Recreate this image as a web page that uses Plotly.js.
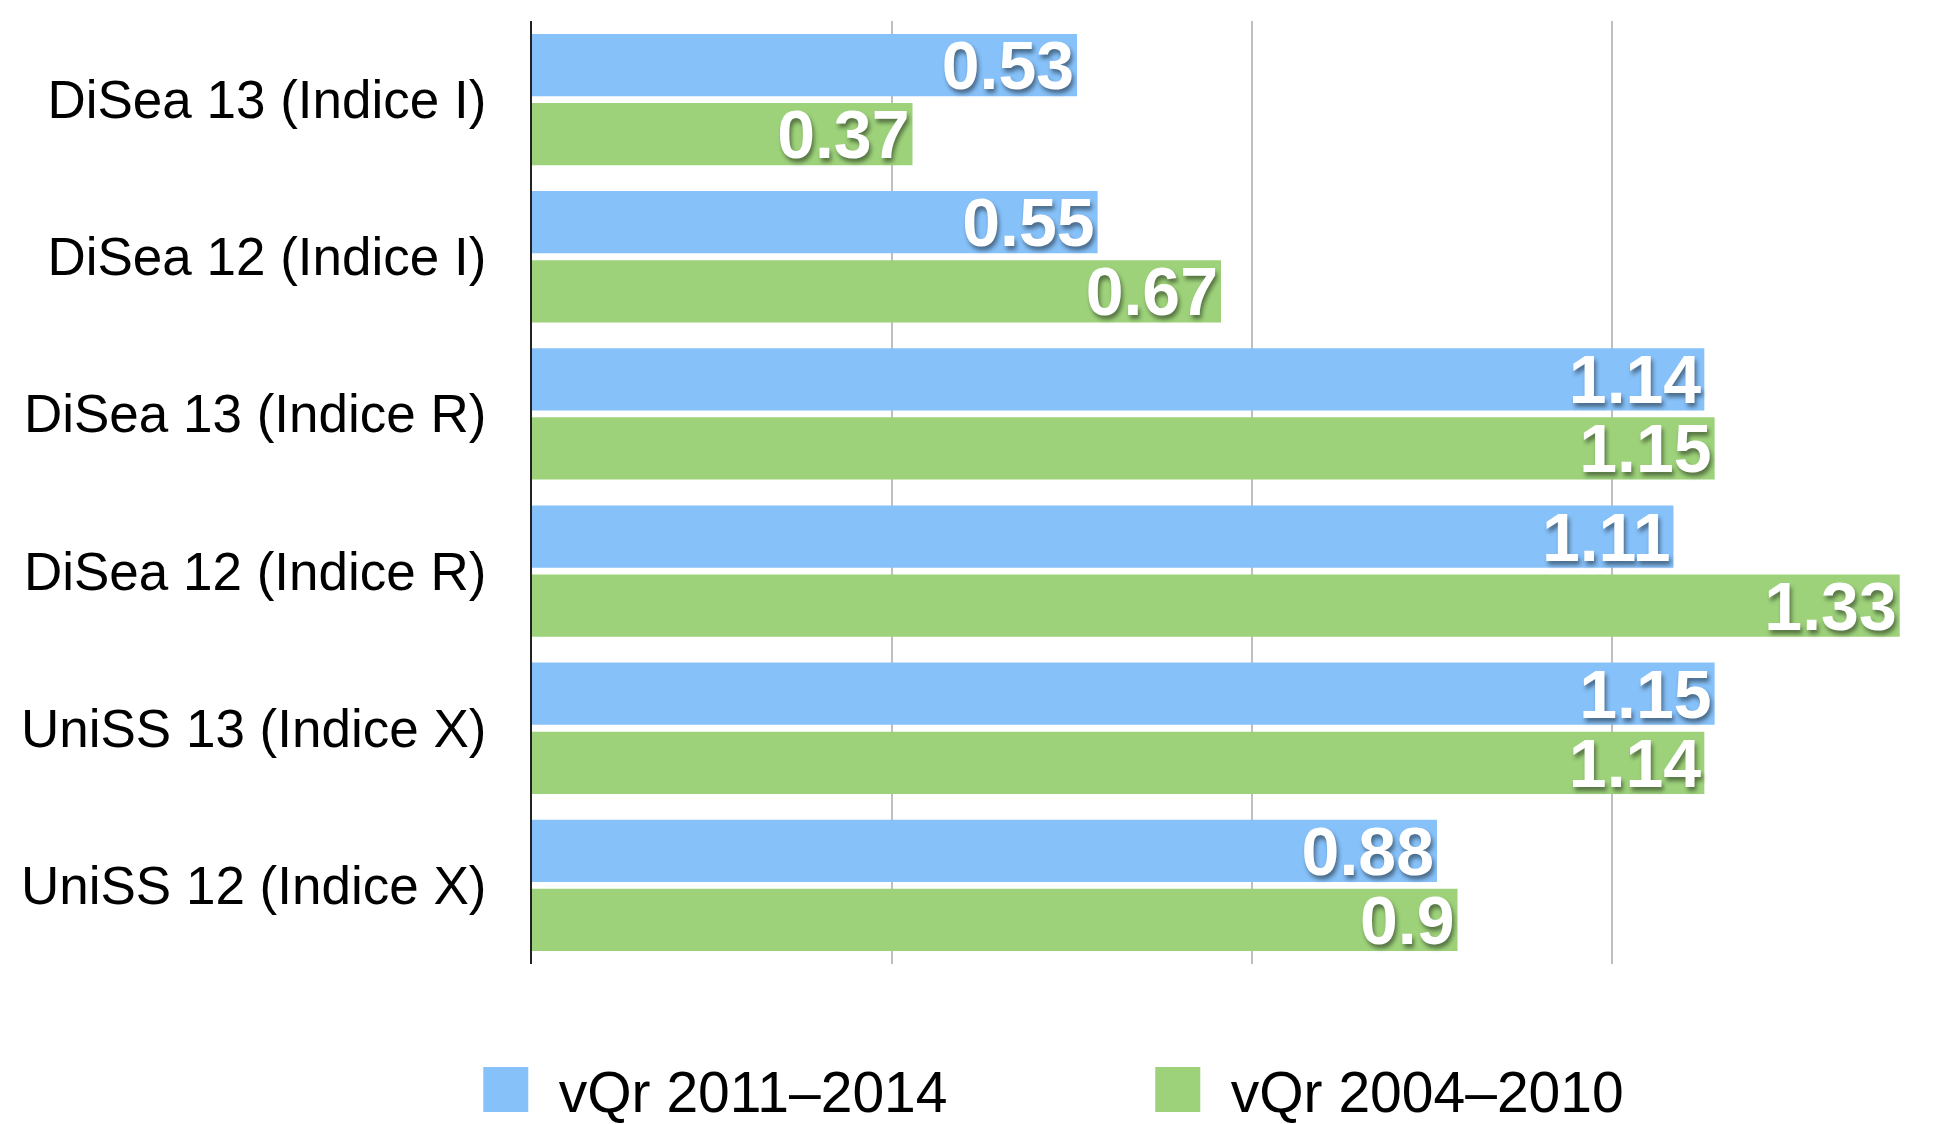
<!DOCTYPE html>
<html>
<head>
<meta charset="utf-8">
<script src="https://cdn.plot.ly/plotly-3.0.1.min.js"></script>
<style>html,body{margin:0;padding:0;background:#fff;}</style>
</head>
<body>
<div id="chart" style="width:1955px;height:1124px;"></div>
<script>
const categories = [
  "DiSea 13 (Indice I)",
  "DiSea 12 (Indice I)",
  "DiSea 13 (Indice R)",
  "DiSea 12 (Indice R)",
  "UniSS 13 (Indice X)",
  "UniSS 12 (Indice X)"
];
const seriesNames = ["vQr 2011\u20132014", "vQr 2004\u20132010"];
const vqr2011_2014 = [0.53, 0.55, 1.14, 1.11, 1.15, 0.88];
const vqr2004_2010 = [0.37, 0.67, 1.15, 1.33, 1.14, 0.9];
const colors = ["#86C1F9", "#9DD27A"];

const labelFont = {
  family: "Liberation Sans, Arial, sans-serif",
  size: 68,
  color: "#ffffff",
  weight: "bold",
  shadow: "2px 4px 4px rgba(0,0,0,0.45)"
};

function barTrace(name, values, color) {
  return {
    type: "bar",
    orientation: "h",
    name: name,
    y: categories,
    x: values,
    marker: { color: color, line: { width: 0 } },
    text: values.map(v => String(v)),
    textposition: "inside",
    insidetextanchor: "end",
    constraintext: "none",
    textangle: 0,
    textfont: labelFont,
    hoverinfo: "x+y+name",
    cliponaxis: false
  };
}

const data = [
  barTrace(seriesNames[0], vqr2011_2014, colors[0]),
  barTrace(seriesNames[1], vqr2004_2010, colors[1])
];

const layout = {
  width: 1955,
  height: 1124,
  paper_bgcolor: "#ffffff",
  plot_bgcolor: "#ffffff",
  margin: { l: 532, r: 45, t: 21, b: 160, pad: 0, autoexpand: false },
  barmode: "group",
  bargap: 0.12,
  bargroupgap: 0.1,
  font: { family: "Liberation Sans, Arial, sans-serif", color: "#000000" },
  xaxis: {
    range: [0, 1.34],
    tick0: 0,
    dtick: 0.35,
    showticklabels: false,
    ticks: "",
    showgrid: true,
    gridcolor: "rgba(0,0,0,0.25)",
    gridwidth: 1.5,
    zeroline: false,
    showline: false,
    layer: "above traces",
    fixedrange: true
  },
  yaxis: {
    autorange: "reversed",
    showgrid: false,
    zeroline: false,
    showline: true,
    linecolor: "#222222",
    linewidth: 2,
    ticks: "",
    ticklabelstandoff: 33,
    tickfont: { family: "Liberation Sans, Arial, sans-serif", size: 53, color: "#000000" },
    automargin: false,
    fixedrange: true
  },
  showlegend: true,
  legend: {
    orientation: "h",
    x: -0.0575,
    xanchor: "left",
    y: -0.087,
    yanchor: "top",
    font: { family: "Liberation Sans, Arial, sans-serif", size: 57, color: "#000000" },
    itemwidth: 96,
    entrywidth: 561,
    entrywidthmode: "pixels",
    traceorder: "normal",
    bgcolor: "rgba(0,0,0,0)"
  }
};

Plotly.newPlot("chart", data, layout, { displayModeBar: false, staticPlot: true }).then(gd => {
  gd.querySelectorAll(".legendpoints path").forEach(p => {
    p.setAttribute("d", "M-22.5,-22.5h45v45h-45z");
  });
});
</script>
</body>
</html>
